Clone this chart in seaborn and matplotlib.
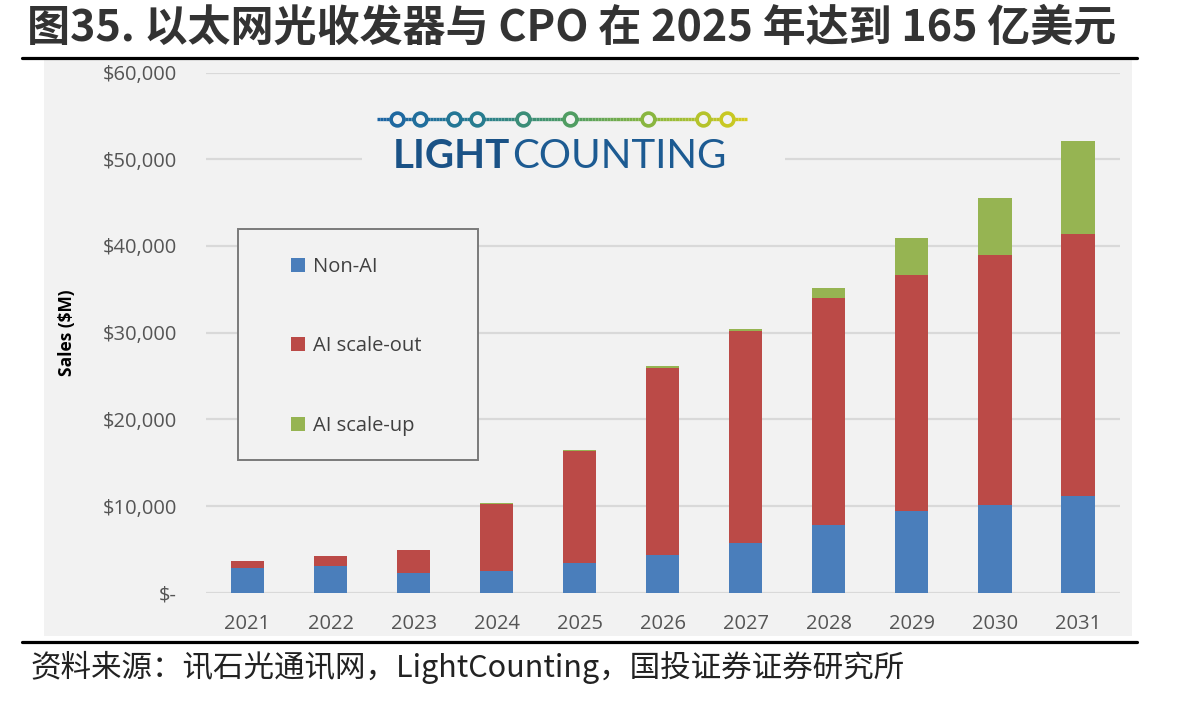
import numpy as np
import pandas as pd
import seaborn as sns
import matplotlib
matplotlib.use('Agg')
import matplotlib.pyplot as plt
from matplotlib.patches import Rectangle, Patch
from matplotlib.lines import Line2D
from matplotlib.collections import LineCollection
from matplotlib.colors import LinearSegmentedColormap
from matplotlib.ticker import FuncFormatter

# data ($M)
years = ['2021', '2022', '2023', '2024', '2025', '2026', '2027', '2028', '2029', '2030', '2031']
non_ai = [2800, 3030, 2220, 2530, 3450, 4300, 5770, 7800, 9400, 10100, 11200]
ai_scale_out = [840, 1260, 2720, 7660, 12950, 21600, 24380, 26160, 27200, 28900, 30200]
ai_scale_up = [0, 0, 0, 150, 100, 200, 250, 1240, 4300, 6500, 10700]
series_names = ['Non-AI', 'AI scale-out', 'AI scale-up']

title = '图35. 以太网光收发器与 CPO 在 2025 年达到 165 亿美元'
source = '资料来源：讯石光通讯网，LightCounting，国投证券证券研究所'

blue, red, green = '#4a7ebb', '#bb4a47', '#96b452'
panel = '#f2f2f2'

sns.set_theme(style='white')
plt.rcParams['font.family'] = ['Open Sans', 'Noto Sans CJK SC', 'DejaVu Sans']

df = pd.DataFrame({'year': years, 'non_ai': non_ai,
                   'scale_out': ai_scale_out, 'scale_up': ai_scale_up})
df['lvl1'] = df.non_ai
df['lvl2'] = df.non_ai + df.scale_out
df['lvl3'] = df.lvl2 + df.scale_up

fig = plt.figure(figsize=(11.83, 7.01), dpi=100)
W, H = 1183, 701


def fx(px):
    return px / W


def fy(py):
    return 1 - py / H


# gray chart panel + black rules
fig.add_artist(Rectangle((fx(44), fy(636)), fx(1132) - fx(44), fy(58) - fy(636),
                         transform=fig.transFigure, facecolor=panel, edgecolor='none', zorder=-5))
for yy in (57.7, 641.7):
    fig.add_artist(Line2D([fx(22), fx(1137)], [fy(yy), fy(yy)], color='black', lw=2.3,
                          transform=fig.transFigure))

ax_l, ax_r = 206, 1119.5
ax = fig.add_axes([fx(ax_l), fy(592.7), fx(ax_r) - fx(ax_l), fy(72.6) - fy(592.7)])
ax.set_facecolor('none')

# stacked bars: draw cumulative totals from the top down
for col, c in (('lvl3', green), ('lvl2', red), ('lvl1', blue)):
    sns.barplot(data=df, x='year', y=col, color=c, width=0.4, saturation=1,
                linewidth=0, ax=ax, zorder=3)

ax.set_ylim(0, 60000)
ax.set_xlim(-0.5, len(years) - 0.5)
ax.set_yticks(np.arange(0, 60001, 10000))
ax.yaxis.set_major_formatter(FuncFormatter(lambda v, p: '$-' if v == 0 else f'${v:,.0f}'))
ax.grid(axis='y', color='#d9d9d9', lw=1.6, zorder=0)
ax.set_axisbelow(True)
for s in ax.spines.values():
    s.set_visible(False)
ax.tick_params(axis='y', length=0, pad=21, labelsize=14.5, labelcolor='#555555')
ax.tick_params(axis='x', length=0, pad=15, labelsize=14.5, labelcolor='#555555')
ax.set_xlabel('')
ax.set_ylabel('Sales ($M)', fontsize=12.5, fontweight='bold', color='black')
ax.yaxis.set_label_coords(-(ax_l - 76) / (ax_r - ax_l), 0.5)

# legend box
ax.add_patch(Rectangle((fx(238.3), fy(460)), fx(478) - fx(238.3), fy(229) - fy(460),
                       transform=fig.transFigure, facecolor=panel, edgecolor='#7a7a7a',
                       lw=1.4, zorder=6, clip_on=False))
handles = [Patch(facecolor=c, edgecolor='none') for c in (blue, red, green)]
leg = ax.legend(handles, series_names, loc='upper left', bbox_to_anchor=(fx(290.7), fy(257)),
                bbox_transform=fig.transFigure, frameon=False, fontsize=14.5,
                handlelength=0.7, handleheight=0.7, handletextpad=0.4,
                labelspacing=2.95, borderpad=0, borderaxespad=0)
leg.set_zorder(7)
for t in leg.get_texts():
    t.set_color('#404040')

# LightCounting logo
ax.add_patch(Rectangle((fx(362), fy(182)), fx(785) - fx(362), fy(95) - fy(182),
                       transform=fig.transFigure, facecolor=panel, edgecolor='none',
                       zorder=2, clip_on=False))
logo_cmap = LinearSegmentedColormap.from_list(
    'lc', ['#1c64a4', '#257a92', '#4a9a66', '#8db83c', '#d8cc1c'])
lx0, lx1, ly = 377, 747, 119
xs = np.linspace(lx0, lx1, 120)
segs = [[(fx(a), fy(ly)), (fx(b), fy(ly))] for a, b in zip(xs[:-1], xs[1:])]
lc = LineCollection(segs, colors=logo_cmap((xs[:-1] - lx0) / (lx1 - lx0)), lw=2.4,
                    transform=fig.transFigure, zorder=8)
fig.add_artist(lc)
for cx in (396.7, 420, 454.3, 476.7, 523.3, 570, 647.7, 703.3, 726.7):
    col = logo_cmap((cx - lx0) / (lx1 - lx0))
    fig.add_artist(Line2D([fx(cx)], [fy(ly)], marker='o', markersize=9.2, markeredgewidth=2.6,
                          markerfacecolor=panel, markeredgecolor=col,
                          transform=fig.transFigure, zorder=9))
fig.text(fx(393), fy(168), 'LIGHT', fontsize=29, fontweight='bold', color='#1a5286',
         family=['Lato', 'DejaVu Sans'], va='baseline', ha='left')
fig.text(fx(512), fy(168), 'COUNTING', fontsize=29, color='#1d5b92',
         family=['Lato', 'DejaVu Sans'], va='baseline', ha='left')

# title and source
fig.text(fx(27), fy(28), title, fontsize=31, fontweight='bold', color='#333333',
         family=['Noto Sans CJK SC', 'DejaVu Sans'], va='center', ha='left')
fig.text(fx(30), fy(667), source, fontsize=22, color='#222222',
         family=['Noto Sans CJK SC', 'DejaVu Sans'], va='center', ha='left')

fig.savefig('out.png', dpi=100)
